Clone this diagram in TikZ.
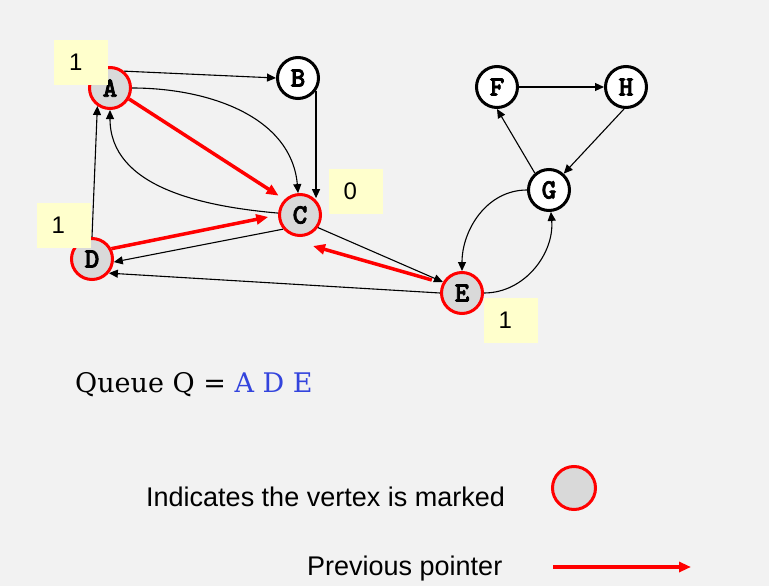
\documentclass[tikz,border=0pt]{standalone}
\usepackage{fontspec}
\usepackage{tikz}
\usetikzlibrary{arrows.meta,calc}
\newfontfamily\lblfont{Liberation Sans}
\newfontfamily\qfont{DejaVu Serif}
\newfontfamily\vtxfont{lmmonolt10-bold.otf}[FakeBold=2.5]
\definecolor{bg}{HTML}{F2F2F2}
\definecolor{markgray}{HTML}{D9D9D9}
\definecolor{noteyellow}{HTML}{FFFFCC}
\definecolor{qblue}{HTML}{3344DD}

\begin{document}
\begin{tikzpicture}[x=1pt,y=1pt,>={Triangle[length=9pt,width=8pt]},
vertex/.style={circle,draw,line width=3pt,fill=white,minimum size=41pt,inner sep=0pt,font=\vtxfont\fontsize{28}{28}\selectfont},
marked/.style={vertex,draw=red,fill=markgray},
numbox/.style={fill=noteyellow,minimum height=45pt,text width=24pt,inner xsep=15pt,align=left,font=\lblfont\fontsize{24}{24}\selectfont},
edge/.style={->,line width=1.1pt},
prev/.style={-{Triangle[length=12pt,width=10pt]},draw=red,line width=3.5pt}]
\fill[bg] (0,0) rectangle (769,-586);
% graph
\node[marked] (A) at (110,-88) {A};
\node[vertex] (B) at (298,-78) {B};
\node[marked] (C) at (300,-215) {C};
\node[marked] (D) at (92,-259) {D};
\node[marked] (E) at (462,-293) {E};
\node[vertex] (F) at (497,-87) {F};
\node[vertex] (H) at (626,-87) {H};
\node[vertex] (G) at (549,-190) {G};
\draw[edge] (A.50) -- (B.west);
\draw[edge] (A) to[out=0,in=95] (C);
\draw[edge] (C) to[out=175,in=-90] (A);
\draw[edge] (B.-35) -- (B.-35 |- C.50);
\draw[edge] (D.north) -- (A.-125);
\draw[edge] (C.-140) -- (D.-8);
\draw[edge] (C.-35) -- (E.150);
\draw[edge] (E.west) -- (D.-40);
\draw[edge] (E) to[out=0,in=-85] (G);
\draw[edge] (G) to[out=180,in=90] (E);
\draw[edge] (G.130) -- (F.south);
\draw[edge] (F.east) -- (H.west);
\draw[edge] (H.-95) -- (G.48);
% previous pointers
\draw[prev,shorten >=7pt] (A.-30) -- (C.135);
\draw[prev,shorten >=10pt] (D.28) -- (C.west);
\draw[prev,shorten <=11pt] (E.153) -- ($(C)+(13,-31)$);
% distances
\node[numbox] (nA) at (81,-62.5) {1};
\node[numbox] (nD) at (63.5,-225.5) {1};
\node[numbox] (nC) at (355.5,-191) {0};
\node[numbox] (nE) at (510.5,-320) {1};
% queue and legend
\node[anchor=base west,inner sep=0pt,font=\qfont\fontsize{27}{27}\selectfont] (queue) at (75,-392) {Queue Q = \textcolor{qblue}{A D E}};
\node[anchor=base west,inner sep=0pt,font=\lblfont\fontsize{27}{27}\selectfont] (marktxt) at (146,-506) {Indicates the vertex is marked};
\node[marked,minimum size=43pt] (markkey) at (574,-488) {};
\node[anchor=base west,inner sep=0pt,font=\lblfont\fontsize{27}{27}\selectfont] (prevtxt) at (307,-575) {Previous pointer};
\coordinate (keyl) at (553,-567);
\coordinate (keyr) at (691,-567);
\draw[prev] (keyl) -- (keyr);
\end{tikzpicture}
\end{document}
